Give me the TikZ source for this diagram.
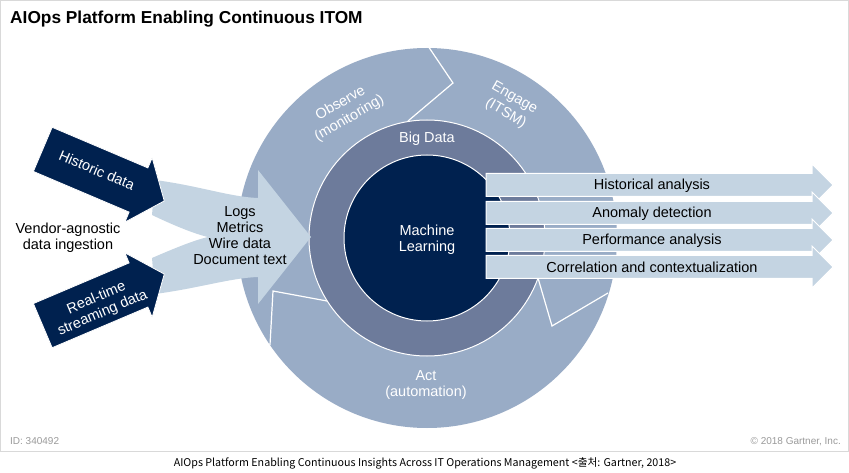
\documentclass[tikz,border=0pt]{standalone}
\usepackage{fontspec}
\setmainfont{Liberation Sans}
\newfontfamily\krfont{Noto Sans CJK KR}
\definecolor{ringouter}{HTML}{99ACC6}
\definecolor{ringmid}{HTML}{6D7B9B}
\definecolor{navy}{HTML}{00214F}
\definecolor{lightblue}{HTML}{C4D4E2}
\definecolor{framegray}{HTML}{D9D9D9}
\definecolor{idgray}{HTML}{9A9A9A}
\tikzset{
  lbl/.style={font=\fontsize{14.5}{16}\selectfont, align=center, inner sep=0pt, text=black},
  wlbl/.style={lbl, text=white},
  rlbl/.style={wlbl, font=\fontsize{14.5}{17.5}\selectfont},
  outarrow/.style={fill=lightblue, draw=white, line width=1pt},
  darkarrow/.style={fill=navy, draw=white, line width=0.8pt},
  chev/.style={draw=white, line width=1.2pt},
  ringline/.style={draw=white, line width=1pt}
}
\begin{document}
\begin{tikzpicture}[x=1pt,y=-1pt]
\useasboundingbox (0,0) rectangle (849,473);
\fill[white] (0,0) rectangle (849,473);
\draw[framegray, line width=1pt] (0.5,0.5) rectangle (848.5,451.5);

% title
\node[anchor=base west, inner sep=0pt, font=\bfseries\fontsize{17.3}{20}\selectfont] (title) at (10,24) {AIOps Platform Enabling Continuous ITOM};

% rings
\fill[ringouter] (427,238) circle[radius=190];
\draw[chev] (428,46) -- (453,83) -- (408,121);
\draw[chev] (538,278) -- (552,326) -- (608,293);
\draw[chev] (327,301) -- (273,291) -- (270,345);
\filldraw[fill=ringmid, ringline] (427,238) circle[radius=118];
\filldraw[fill=navy, ringline] (427,238) circle[radius=83];

\node[rlbl, rotate=30] (observe) at (345,111) {Observe\\(monitoring)};
\node[rlbl, rotate=-30] (engage) at (510,106) {Engage\\(ITSM)};
\node[wlbl] (act) at (426,385) {Act\\(automation)};
\node[wlbl] (bigdata) at (427,139) {Big Data};
\node[wlbl] (ml) at (427,240) {Machine\\Learning};

% ingestion arrow
\fill[lightblue] (155,180) .. controls (200,186) and (230,197) .. (258,198) -- (258,170) -- (311,237) -- (258,304) -- (258,277) .. controls (230,278) and (200,288) .. (155,294) -- (152,258) .. controls (175,248) and (195,240) .. (208,237) .. controls (195,234) and (175,226) .. (152,215) -- cycle;
\node[lbl] (logs) at (240,236) {Logs\\Metrics\\Wire data\\Document text};

% dark arrows
\begin{scope}[shift={(138.5,190)}, rotate=-23]
  \filldraw[darkarrow] (-104,-24) -- (0,-24) -- (0,-35) -- (28,0) -- (0,35) -- (0,24) -- (-104,24) -- cycle;
  \node[wlbl, rotate=-23] (hist) at (-46,-2) {Historic data};
\end{scope}
\begin{scope}[shift={(138.5,285)}, rotate=23]
  \filldraw[darkarrow] (-104,-24) -- (0,-24) -- (0,-35) -- (28,0) -- (0,35) -- (0,24) -- (-104,24) -- cycle;
  \node[wlbl, rotate=23] (rt) at (-44,4) {Real-time\\streaming data};
\end{scope}

\node[lbl] (vendor) at (68,238) {Vendor-agnostic\\data ingestion};

% output arrows
\foreach \yc/\txt/\nm in {185/Historical analysis/oa1, 213/Anomaly detection/oa2, 240/Performance analysis/oa3, 267/Correlation and contextualization/oa4}{
  \filldraw[outarrow] (486,{\yc-11.5}) -- (812,{\yc-11.5}) -- (812,{\yc-21}) -- (833,\yc) -- (812,{\yc+21}) -- (812,{\yc+11.5}) -- (486,{\yc+11.5}) -- cycle;
  \node[lbl] (\nm) at (652,{\yc+0.5}) {\txt};
}

% footer
\node[anchor=base west, inner sep=0pt, text=idgray, font=\fontsize{10}{12}\selectfont] (id) at (10,444) {ID: 340492};
\node[anchor=base east, inner sep=0pt, text=idgray, font=\fontsize{10}{12}\selectfont] (copy) at (841,444) {© 2018 Gartner, Inc.};
\node[inner sep=0pt, font=\krfont\fontsize{10.7}{13}\selectfont] (caption) at (425,463) {AIOps Platform Enabling Continuous Insights Across IT Operations Management <출처: Gartner, 2018>};
\end{tikzpicture}
\end{document}
